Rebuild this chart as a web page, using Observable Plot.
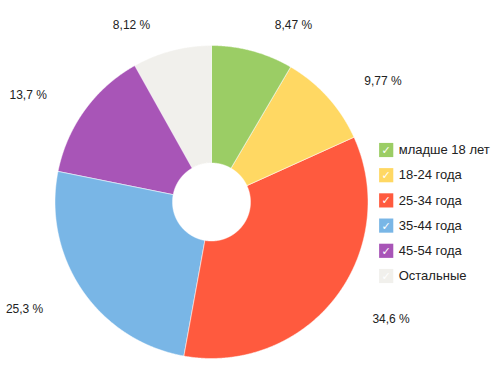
<!DOCTYPE html>
<html><head><meta charset="utf-8">
<script src="https://cdn.jsdelivr.net/npm/d3@7"></script>
<script src="https://cdn.jsdelivr.net/npm/@observablehq/plot@0.6"></script>
<style>body{margin:0;background:#fff}</style>
</head><body><div id="chart"></div>
<script>
// Data
const categories = ["младше 18 лет", "18-24 года", "25-34 года", "35-44 года", "45-54 года", "Остальные"];
const shares = [8.47, 9.77, 34.6, 25.3, 13.7, 8.12];
const colors = ["#9bcd65", "#ffd863", "#ff5a3e", "#79b6e6", "#a855b7", "#f1f0ec"];

// Layout
const W = 499, H = 372;
const cx = 211, cy = 201.5, R = 156.5, r0 = 39;
const labelR = 186, labelShift = 33;
const legendX = 385.7, legendY0 = 149.5, legendStep = 25.2;

const arcs = d3.pie().sort(null).value(d => d)(shares);
const pt = (a, rad) => [cx + rad * Math.sin(a), cy - rad * Math.cos(a)];

const slices = arcs.map((a, i) => {
  const span = a.endAngle - a.startAngle;
  const n = Math.max(2, Math.ceil(span / 0.005));
  const outer = d3.range(n + 1).map(k => pt(a.startAngle + span * k / n, R));
  const inner = d3.range(n + 1).map(k => pt(a.endAngle - span * k / n, r0));
  return {type: "Feature", properties: {cat: categories[i]},
          geometry: {type: "Polygon", coordinates: [[...outer, ...inner, outer[0]]]}};
});

const fmt = v => String(v).replace(".", ",") + " %";
const labels = arcs.map((a, i) => {
  const m = (a.startAngle + a.endAngle) / 2;
  const s = Math.sin(m);
  return {x: cx + labelR * s + labelShift * Math.sign(s), y: cy - labelR * Math.cos(m), text: fmt(shares[i])};
});

const legend = categories.map((c, i) => ({cat: c, x: legendX, y: legendY0 + i * legendStep}));

const chart = Plot.plot({
  width: W, height: H,
  margin: 0,
  projection: "identity",
  color: {domain: categories, range: colors},
  style: {fontFamily: "'Liberation Sans', Arial, sans-serif", background: "#fff"},
  marks: [
    Plot.geo(slices, {fill: d => d.properties.cat, stroke: "#fff", strokeWidth: 0.5}),
    Plot.text(labels, {x: "x", y: "y", text: "text", fontSize: 12, fill: "#222", textAnchor: "middle", lineAnchor: "middle", dy: 3}),
    Plot.dot(legend, {x: "x", y: "y", fill: "cat", symbol: "square", r: 8}),
    Plot.text(legend, {x: "x", y: "y", text: () => "✓", fill: "#fff", fontSize: 11, fontWeight: "bold", dy: 0.5,
      fontFamily: "'DejaVu Sans', sans-serif"}),
    Plot.text(legend, {x: "x", y: "y", text: "cat", dx: 12.5, textAnchor: "start", lineAnchor: "middle", fontSize: 13, fill: "#222"})
  ]
});
document.getElementById("chart").append(chart);
</script>
</body></html>
